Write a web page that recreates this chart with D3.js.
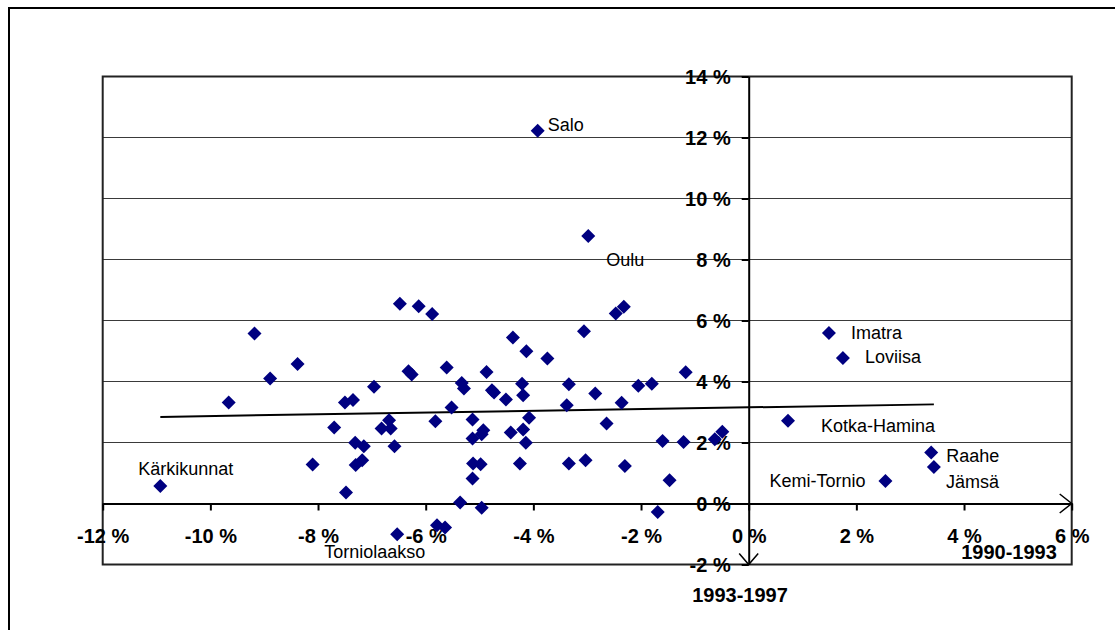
<!DOCTYPE html>
<html><head><meta charset="utf-8">
<script src="https://cdn.jsdelivr.net/npm/d3@7"></script>
<style>body{margin:0;background:#fff}svg{display:block}</style>
</head><body>
<svg id="c" width="1115" height="630"></svg>
<script>
// ---- data ----
const xTicks = [-12, -10, -8, -6, -4, -2, 0, 2, 4, 6];
const yTicks = [-2, 0, 2, 4, 6, 8, 10, 12, 14];
const xTitle = "1990-1993";
const yTitle = "1993-1997";
const xVals = [-10.93,-9.66,-9.18,-8.89,-8.38,-8.10,-7.70,-7.50,-7.35,-7.48,-7.31,-7.15,-7.18,-7.30,-6.96,-6.68,-6.82,-6.65,-6.58,-6.53,
  -6.48,-6.13,-5.88,-6.32,-6.26,-5.82,-5.79,-5.64,-5.61,-5.52,-5.33,-5.29,-5.36,-5.13,-5.13,-5.12,-5.13,-4.98,-4.96,-4.93,
  -4.96,-4.87,-4.77,-4.73,-4.51,-4.42,-4.38,-4.25,-4.21,-4.19,-4.19,-4.14,-4.13,-4.08,-3.92,-3.74,-3.38,-3.34,-3.34,-3.06,
  -3.03,-2.98,-2.85,-2.64,-2.47,-2.32,-2.36,-2.30,-2.05,-1.80,-1.69,-1.60,-1.47,-1.21,-1.17,-0.63,-0.49,
  1.49,1.75,0.73,3.39,3.44,2.54];
const yVals = [0.57,3.31,5.57,4.10,4.57,1.28,2.49,3.31,3.39,0.36,1.99,1.88,1.42,1.26,3.83,2.73,2.46,2.46,1.88,-1.01,
  6.55,6.47,6.21,4.34,4.23,2.70,-0.71,-0.79,4.46,3.15,3.95,3.77,0.03,2.75,2.13,1.31,0.82,1.29,-0.14,2.40,
  2.27,4.31,3.71,3.64,3.41,2.33,5.44,1.31,3.93,3.55,2.43,1.99,4.99,2.81,12.22,4.75,3.22,3.91,1.31,5.65,
  1.42,8.77,3.61,2.62,6.23,6.45,3.30,1.23,3.86,3.93,-0.28,2.05,0.76,2.02,4.30,2.11,2.35,
  5.59,4.77,2.71,1.67,1.20,0.74];
const pointNames = ["Kärkikunnat","","","","","","","","","","","","","","","","","","","Torniolaakso",
  "","","","","","","","","","","","","","","","","","","","",
  "","","","","","","","","","","","","","","Salo","","","","","",
  "","Oulu","","","","","","","","","","","","","","","",
  "Imatra","Loviisa","Kotka-Hamina","Raahe","Jämsä","Kemi-Tornio"];
const trendX = [-10.93, 3.44];
const trendY = [2.84, 3.25];

// ---- layout / style ----
const labelPos = {
  "Salo": {dx: 10, dy: -6, anchor: "start"},
  "Oulu": {dx: 18, dy: 24, anchor: "start"},
  "Imatra": {dx: 22, dy: 0, anchor: "start"},
  "Loviisa": {dx: 22, dy: -1, anchor: "start"},
  "Kotka-Hamina": {dx: 33, dy: 5, anchor: "start"},
  "Raahe": {dx: 15, dy: 3, anchor: "start"},
  "Jämsä": {dx: 12, dy: 15, anchor: "start"},
  "Kemi-Tornio": {dx: -20, dy: 0, anchor: "end"},
  "Kärkikunnat": {dx: -22, dy: -17, anchor: "start"},
  "Torniolaakso": {dx: -73, dy: 17, anchor: "start"}
};
const FONT = "'Liberation Sans', Arial, sans-serif";
const svg = d3.select("#c");
const L = 102.7, R = 1071.7, T = 76.5, B = 564.5;
const x = d3.scaleLinear().domain([-12, 6]).range([L, R]);
const y = d3.scaleLinear().domain([-2, 14]).range([B, T]);

// chart area frame
svg.append("rect").attr("x", 9).attr("y", 8).attr("width", 1300).attr("height", 800)
  .attr("fill", "#fff").attr("stroke", "#000").attr("stroke-width", 2);

// gridlines
svg.append("g").selectAll("line").data(yTicks).join("line")
  .attr("x1", L).attr("x2", R).attr("y1", d => y(d)).attr("y2", d => y(d))
  .attr("stroke", "#3a3a3a").attr("stroke-width", 1);

// plot frame
svg.append("rect").attr("x", L).attr("y", T).attr("width", R - L).attr("height", B - T)
  .attr("fill", "none").attr("stroke", "#222").attr("stroke-width", 2);

// axes
const xAxis = svg.append("g").attr("transform", `translate(0,${y(0)})`)
  .call(d3.axisBottom(x).tickValues(xTicks).tickSize(7).tickSizeOuter(0).tickFormat(d => d + " %"));
xAxis.select(".domain").attr("stroke", "#000").attr("stroke-width", 2);
xAxis.selectAll(".tick line").attr("stroke", "#000").attr("stroke-width", 2);
xAxis.selectAll("text").attr("y", 32).attr("dy", "0.35em")
  .attr("font-family", FONT).attr("font-size", 20).attr("font-weight", "bold").attr("fill", "#000");

const yAxis = svg.append("g").attr("transform", `translate(${x(0)},0)`)
  .call(d3.axisLeft(y).tickValues(yTicks).tickSize(7).tickSizeOuter(0).tickFormat(d => d + " %"));
yAxis.select(".domain").attr("stroke", "#000").attr("stroke-width", 2);
yAxis.selectAll(".tick line").attr("stroke", "#000").attr("stroke-width", 2);
yAxis.selectAll("text").attr("x", -18).attr("dy", "0.35em")
  .attr("font-family", FONT).attr("font-size", 20).attr("font-weight", "bold").attr("fill", "#000");

// arrowheads
const arrow = d3.line();
svg.append("path").attr("d", arrow([[x(6) - 12, y(0) - 9.5], [x(6), y(0)], [x(6) - 12, y(0) + 9.5]]))
  .attr("fill", "none").attr("stroke", "#000").attr("stroke-width", 1.5);
svg.append("path").attr("d", arrow([[x(0) - 9.5, y(-2) - 11], [x(0), y(-2)], [x(0) + 9.5, y(-2) - 11]]))
  .attr("fill", "none").attr("stroke", "#000").attr("stroke-width", 1.5);

// trend line
svg.append("line")
  .attr("x1", x(trendX[0])).attr("y1", y(trendY[0]))
  .attr("x2", x(trendX[1])).attr("y2", y(trendY[1]))
  .attr("stroke", "#000").attr("stroke-width", 2);

// points
const pts = xVals.map((v, i) => ({x: v, y: yVals[i], name: pointNames[i]}));
const sym = d3.symbol().type(d3.symbolSquare).size(98);
svg.append("g").selectAll("path").data(pts).join("path")
  .attr("d", sym)
  .attr("transform", d => `translate(${x(d.x)},${y(d.y)}) rotate(45)`)
  .attr("fill", "#000080");

// labels
svg.append("g").selectAll("text").data(pts.filter(d => d.name)).join("text")
  .attr("x", d => x(d.x) + labelPos[d.name].dx)
  .attr("y", d => y(d.y) + labelPos[d.name].dy)
  .attr("dy", "0.35em")
  .attr("text-anchor", d => labelPos[d.name].anchor)
  .attr("font-family", FONT).attr("font-size", 18).attr("fill", "#000")
  .text(d => d.name);

// axis titles
svg.append("text").attr("x", 1009).attr("y", 552).attr("dy", "0.35em").attr("text-anchor", "middle")
  .attr("font-family", FONT).attr("font-size", 20).attr("font-weight", "bold").text(xTitle);
svg.append("text").attr("x", 740).attr("y", 595).attr("dy", "0.35em").attr("text-anchor", "middle")
  .attr("font-family", FONT).attr("font-size", 20).attr("font-weight", "bold").text(yTitle);
</script>
</body></html>
